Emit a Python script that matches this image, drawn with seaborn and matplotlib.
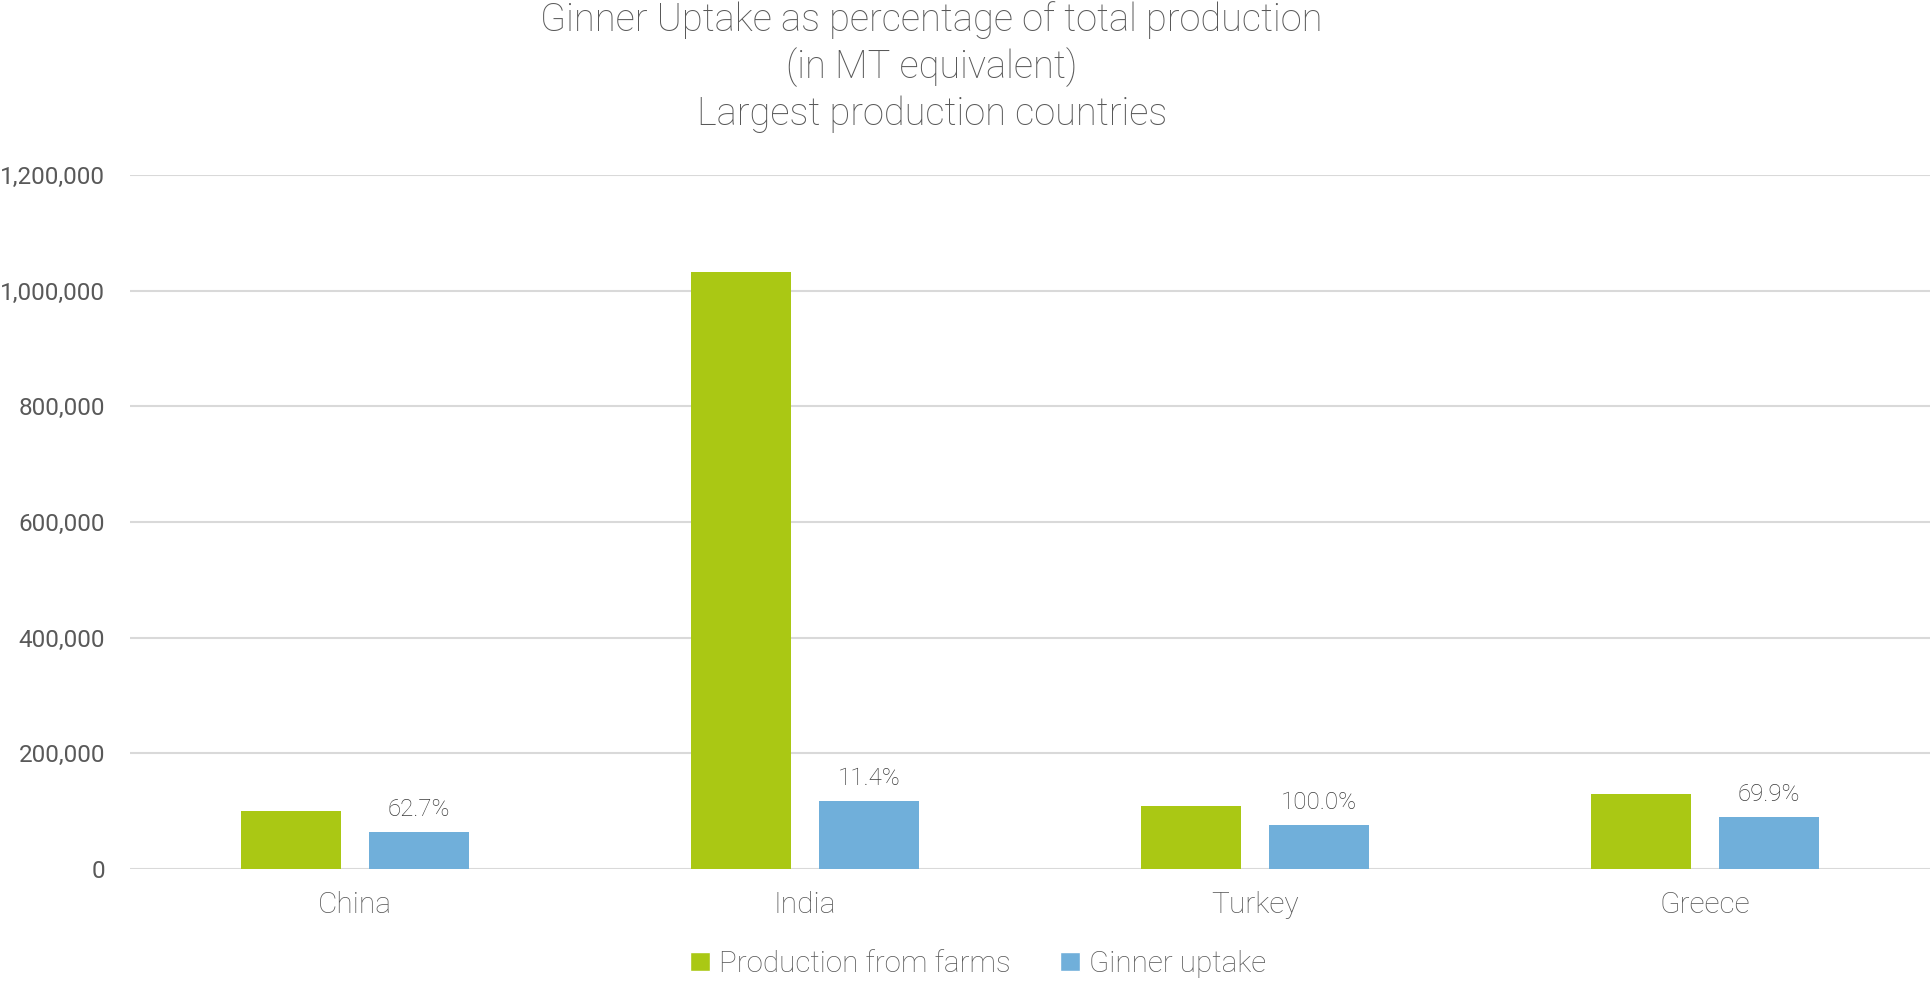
import numpy as np
import pandas as pd
import matplotlib
matplotlib.use("Agg")
import matplotlib.pyplot as plt
import seaborn as sns
from matplotlib.patches import Patch

# ─────────────────────────────────────────────
# Données
# ─────────────────────────────────────────────
countries = ["China", "India", "Turkey", "Greece"]
production = [101000, 1033000, 108500, 129000]
uptake = [63400, 117000, 75500, 89300]
uptake_labels = ["62.7%", "11.4%", "100.0%", "69.9%"]
series_names = ["Production from farms", "Ginner uptake"]
y_ticks = [0, 200000, 400000, 600000, 800000, 1000000, 1200000]

GREEN = "#AAC814"
BLUE = "#70AFDA"
TEXT = "#595959"
GRID = "#D9D9D9"

df = pd.DataFrame({
    "country": countries * 2,
    "value": production + uptake,
    "serie": [series_names[0]] * 4 + [series_names[1]] * 4,
})

sns.set_theme(style="white")
plt.rcParams["font.family"] = ["Roboto", "DejaVu Sans"]

fig = plt.figure(figsize=(19.33, 9.83), dpi=100)
ax = fig.add_axes([0.0673, 0.116, 0.931, 0.706])

sns.barplot(data=df, x="country", y="value", hue="serie", order=countries,
            hue_order=series_names, palette=[GREEN, BLUE], width=0.57, gap=0.22,
            ax=ax, legend=False, saturation=1, linewidth=0)

ax.set_ylim(0, 1200000)
ax.set_xlim(-0.5, 3.5)
ax.set_yticks(y_ticks)
ax.set_yticklabels([f"{t:,}" for t in y_ticks], color=TEXT, fontsize=17.5)
ax.tick_params(axis="y", length=0, pad=18)
ax.tick_params(axis="x", length=0, pad=16, labelsize=21.5, labelcolor=TEXT)
for lab in ax.get_xticklabels():
    lab.set_fontweight("light")
ax.set_xlabel("")
ax.set_ylabel("")
ax.yaxis.grid(True, color=GRID, linewidth=1.5)
ax.set_axisbelow(True)
for s in ax.spines.values():
    s.set_visible(False)

# étiquettes au-dessus des barres bleues
blue_bars = ax.containers[1]
ax.bar_label(blue_bars, labels=uptake_labels, padding=8, fontsize=17.3,
             color="#3A3A3A", fontweight="light")

fig.suptitle("Ginner Uptake as percentage of total production\n(in MT equivalent)\nLargest production countries",
             x=0.482, y=0.999, fontsize=27.4, color=TEXT, fontweight="light", linespacing=1.27)

handles = [Patch(facecolor=GREEN, label=series_names[0]),
           Patch(facecolor=BLUE, label=series_names[1])]
leg = fig.legend(handles=handles, loc="center", bbox_to_anchor=(0.506, 0.0195), ncol=2,
                 frameon=False, fontsize=21.3, handlelength=0.65, handleheight=0.65,
                 handletextpad=0.3, columnspacing=1.7)
for t in leg.get_texts():
    t.set_color(TEXT)
    t.set_fontweight("light")

plt.savefig("out.png", dpi=100)
